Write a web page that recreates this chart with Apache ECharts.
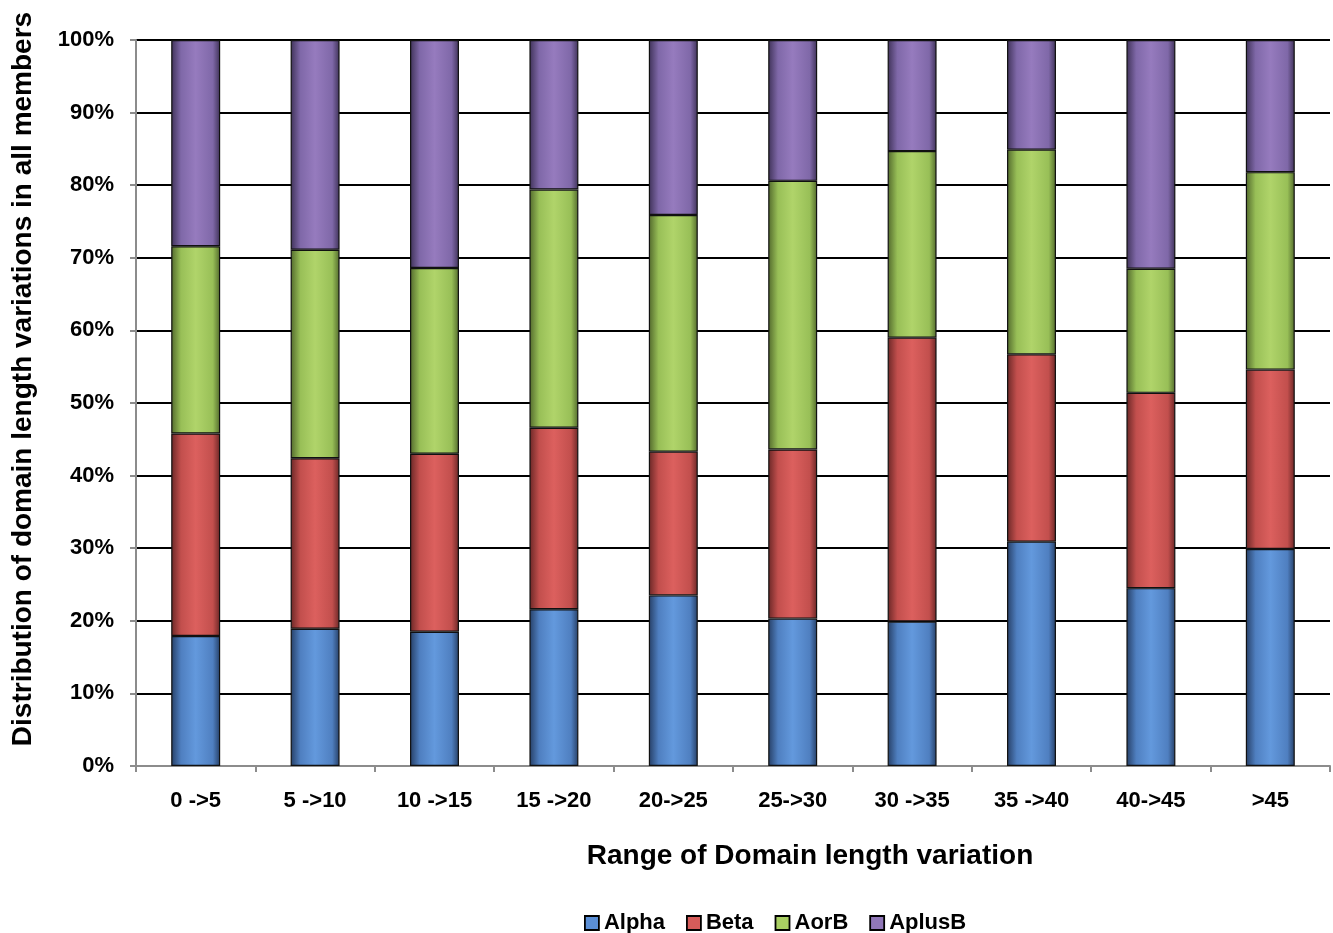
<!DOCTYPE html>
<html>
<head>
<meta charset="utf-8">
<script src="https://cdn.jsdelivr.net/npm/echarts@6/dist/echarts.min.js"></script>
<style>html,body{margin:0;padding:0;background:#fff}#c{width:1333px;height:933px}</style>
</head>
<body>
<div id="c"></div>
<script>
const categories = ['0 ->5','5 ->10','10 ->15','15 ->20','20->25','25->30','30 ->35','35 ->40','40->45','>45'];
const alpha  = [17.9, 18.9, 18.5, 21.6, 23.5, 20.3, 19.9, 30.9, 24.5, 29.9];
const beta   = [27.9, 23.5, 24.5, 25.0, 19.8, 23.3, 39.1, 25.8, 26.9, 24.7];
const aorb   = [25.8, 28.7, 25.6, 32.8, 32.6, 37.0, 25.7, 28.2, 17.1, 27.2];
const aplusb = [28.4, 28.9, 31.4, 20.6, 24.1, 19.4, 15.3, 15.1, 31.5, 18.2];
const seriesNames = ['Alpha','Beta','AorB','AplusB'];
const yTicks = [0,10,20,30,40,50,60,70,80,90,100];

const palette = {
  Alpha:  {dark:'#263f66', mid:'#4f7fc0', light:'#6399dd', base:'#5b8fd6'},
  Beta:   {dark:'#6a2726', mid:'#c24f4d', light:'#dc605e', base:'#d65c5a'},
  AorB:   {dark:'#52692c', mid:'#98bf57', light:'#b0d46a', base:'#a9cf63'},
  AplusB: {dark:'#3f3258', mid:'#7f68a8', light:'#967bbe', base:'#9077b8'}
};
function grad(p){
  return new echarts.graphic.LinearGradient(0,0,1,0,[
    {offset:0,color:p.dark},{offset:0.2,color:p.mid},{offset:0.5,color:p.light},
    {offset:0.85,color:p.mid},{offset:1,color:p.dark}
  ]);
}
const dataSets = [alpha,beta,aorb,aplusb];
const font = '"Liberation Sans", Arial, sans-serif';

const chart = echarts.init(document.getElementById('c'));
chart.setOption({
  animation:false,
  textStyle:{fontFamily:font},
  grid:{left:136,right:3,top:40,bottom:167,containLabel:false},
  legend:{
    left:579, top:907, icon:'rect', itemWidth:14, itemHeight:14, itemGap:21, itemTextGap:4,
    textStyle:{fontFamily:font,fontWeight:'bold',fontSize:22,color:'#000'},
    data:seriesNames.map(n=>({name:n,itemStyle:{color:palette[n].base,borderColor:'#000',borderWidth:1.8}}))
  },
  xAxis:{
    type:'category', data:categories,
    name:'Range of Domain length variation', nameLocation:'middle', nameGap:76,
    nameTextStyle:{fontFamily:font,fontWeight:'bold',fontSize:28,color:'#000',padding:[0,0,0,154]},
    axisLine:{lineStyle:{color:'#8c8c8c',width:2}},
    axisTick:{show:true,length:6,lineStyle:{color:'#8c8c8c',width:2}},
    axisLabel:{margin:24,fontFamily:font,fontWeight:'bold',fontSize:22,color:'#000'}
  },
  yAxis:{
    type:'value', min:0, max:100, interval:10,
    name:'Distribution of domain length variations in all members', nameLocation:'middle', nameGap:99,
    nameTextStyle:{fontFamily:font,fontWeight:'bold',fontSize:28,color:'#000',padding:[0,0,0,48]},
    axisLine:{show:true,lineStyle:{color:'#8c8c8c',width:2}},
    axisTick:{show:true,length:6,lineStyle:{color:'#8c8c8c',width:2}},
    axisLabel:{margin:22,fontFamily:font,fontWeight:'bold',fontSize:22,color:'#000',
      formatter:v=>yTicks.includes(v)?v+'%':''},
    splitLine:{show:true,lineStyle:{color:'#000',width:2}}
  },
  series:seriesNames.map((n,i)=>({
    name:n, type:'bar', stack:'total', barWidth:'41%',
    data:dataSets[i],
    itemStyle:{color:grad(palette[n]),borderColor:'#111',borderWidth:1.2}
  }))
});
</script>
</body>
</html>
